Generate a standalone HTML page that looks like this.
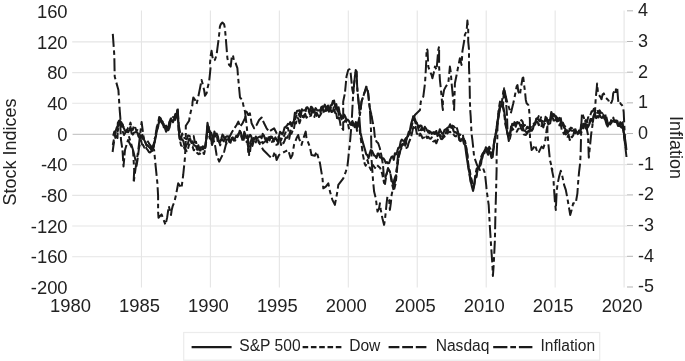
<!DOCTYPE html><html><head><meta charset="utf-8"><style>html,body{margin:0;padding:0;background:#fff;width:685px;height:361px;overflow:hidden}svg{display:block;will-change:transform;filter:blur(0.3px)}</style></head><body><svg width="685" height="361" viewBox="0 0 685 361" font-family="Liberation Sans, sans-serif">
<rect width="685" height="361" fill="#fff"/>
<line x1="72.2" x2="627" y1="41.90" y2="41.90" stroke="#e5e5e5" stroke-width="1.1"/>
<line x1="72.2" x2="627" y1="72.59" y2="72.59" stroke="#e5e5e5" stroke-width="1.1"/>
<line x1="72.2" x2="627" y1="103.27" y2="103.27" stroke="#e5e5e5" stroke-width="1.1"/>
<line x1="72.2" x2="627" y1="164.65" y2="164.65" stroke="#e5e5e5" stroke-width="1.1"/>
<line x1="72.2" x2="627" y1="195.33" y2="195.33" stroke="#e5e5e5" stroke-width="1.1"/>
<line x1="72.2" x2="627" y1="226.02" y2="226.02" stroke="#e5e5e5" stroke-width="1.1"/>
<line x1="72.2" x2="627" y1="256.70" y2="256.70" stroke="#e5e5e5" stroke-width="1.1"/>
<line x1="141.45" x2="141.45" y1="10.6" y2="287.5" stroke="#e5e5e5" stroke-width="1.1"/>
<line x1="210.40" x2="210.40" y1="10.6" y2="287.5" stroke="#e5e5e5" stroke-width="1.1"/>
<line x1="279.35" x2="279.35" y1="10.6" y2="287.5" stroke="#e5e5e5" stroke-width="1.1"/>
<line x1="348.30" x2="348.30" y1="10.6" y2="287.5" stroke="#e5e5e5" stroke-width="1.1"/>
<line x1="417.25" x2="417.25" y1="10.6" y2="287.5" stroke="#e5e5e5" stroke-width="1.1"/>
<line x1="486.20" x2="486.20" y1="10.6" y2="287.5" stroke="#e5e5e5" stroke-width="1.1"/>
<line x1="555.15" x2="555.15" y1="10.6" y2="287.5" stroke="#e5e5e5" stroke-width="1.1"/>
<line x1="624.10" x2="624.10" y1="10.6" y2="287.5" stroke="#e5e5e5" stroke-width="1.1"/>
<line x1="72.6" x2="627" y1="134.45" y2="134.45" stroke="#c9c9c9" stroke-width="1.3"/>
<line x1="627" x2="633" y1="286.99" y2="286.99" stroke="#b3b3b3" stroke-width="1"/>
<line x1="627" x2="633" y1="256.30" y2="256.30" stroke="#b3b3b3" stroke-width="1"/>
<line x1="627" x2="633" y1="225.62" y2="225.62" stroke="#b3b3b3" stroke-width="1"/>
<line x1="627" x2="633" y1="194.93" y2="194.93" stroke="#b3b3b3" stroke-width="1"/>
<line x1="627" x2="633" y1="164.25" y2="164.25" stroke="#b3b3b3" stroke-width="1"/>
<line x1="627" x2="633" y1="133.56" y2="133.56" stroke="#b3b3b3" stroke-width="1"/>
<line x1="627" x2="633" y1="102.87" y2="102.87" stroke="#b3b3b3" stroke-width="1"/>
<line x1="627" x2="633" y1="72.19" y2="72.19" stroke="#b3b3b3" stroke-width="1"/>
<line x1="627" x2="633" y1="41.50" y2="41.50" stroke="#b3b3b3" stroke-width="1"/>
<line x1="627" x2="633" y1="10.82" y2="10.82" stroke="#b3b3b3" stroke-width="1"/>
<text x="67.6" y="17.92" font-size="18.4" fill="#222" text-anchor="end">160</text>
<text x="67.6" y="48.60" font-size="18.4" fill="#222" text-anchor="end">120</text>
<text x="67.6" y="79.29" font-size="18.4" fill="#222" text-anchor="end">80</text>
<text x="67.6" y="109.97" font-size="18.4" fill="#222" text-anchor="end">40</text>
<text x="67.6" y="140.66" font-size="18.4" fill="#222" text-anchor="end">0</text>
<text x="67.6" y="171.35" font-size="18.4" fill="#222" text-anchor="end">-40</text>
<text x="67.6" y="202.03" font-size="18.4" fill="#222" text-anchor="end">-80</text>
<text x="67.6" y="232.72" font-size="18.4" fill="#222" text-anchor="end">-120</text>
<text x="67.6" y="263.40" font-size="18.4" fill="#222" text-anchor="end">-160</text>
<text x="67.6" y="294.09" font-size="18.4" fill="#222" text-anchor="end">-200</text>
<text x="638" y="292.49" font-size="18" fill="#222">-5</text>
<text x="638" y="261.80" font-size="18" fill="#222">-4</text>
<text x="638" y="231.12" font-size="18" fill="#222">-3</text>
<text x="638" y="200.43" font-size="18" fill="#222">-2</text>
<text x="638" y="169.75" font-size="18" fill="#222">-1</text>
<text x="638" y="139.06" font-size="18" fill="#222">0</text>
<text x="638" y="108.37" font-size="18" fill="#222">1</text>
<text x="638" y="77.69" font-size="18" fill="#222">2</text>
<text x="638" y="47.00" font-size="18" fill="#222">3</text>
<text x="638" y="16.32" font-size="18" fill="#222">4</text>
<text x="70.50" y="312.2" font-size="18.4" fill="#222" text-anchor="middle">1980</text>
<text x="139.45" y="312.2" font-size="18.4" fill="#222" text-anchor="middle">1985</text>
<text x="208.40" y="312.2" font-size="18.4" fill="#222" text-anchor="middle">1990</text>
<text x="277.35" y="312.2" font-size="18.4" fill="#222" text-anchor="middle">1995</text>
<text x="346.30" y="312.2" font-size="18.4" fill="#222" text-anchor="middle">2000</text>
<text x="415.25" y="312.2" font-size="18.4" fill="#222" text-anchor="middle">2005</text>
<text x="484.20" y="312.2" font-size="18.4" fill="#222" text-anchor="middle">2010</text>
<text x="553.15" y="312.2" font-size="18.4" fill="#222" text-anchor="middle">2015</text>
<text x="622.10" y="312.2" font-size="18.4" fill="#222" text-anchor="middle">2020</text>
<text transform="translate(16.2,152) rotate(-90)" font-size="18" fill="#222" text-anchor="middle">Stock Indices</text>
<text transform="translate(670,147.5) rotate(90)" font-size="18" fill="#222" text-anchor="middle">Inflation</text>
<polyline points="112.8,33.9 114.3,55.2 114.7,76.6 116.3,82.4 118.4,90.0 119.7,110.0 120.5,120.0 121.5,128.0 124.0,135.0 127.0,130.0 130.0,140.0 133.0,150.0 134.2,170.0 133.6,183.0 135.8,166.6 138.3,150.0 141.6,122.0 143.9,139.4 147.0,140.0 150.0,145.0 154.1,150.0 155.7,166.6 157.4,183.3 158.1,196.0 158.1,211.6 158.5,217.7 161.6,214.4 162.7,217.2 165.5,224.9 167.2,217.2 168.8,206.1 171.0,215.0 171.6,210.5 172.7,206.1 174.4,201.7 176.0,195.0 178.2,183.3 181.5,188.0 183.2,175.0 184.9,158.3 185.8,140.0 185.8,125.8 189.1,120.8 190.0,115.0 191.6,108.3 192.4,105.0 192.5,102.4 193.3,97.4 195.0,99.9 196.6,104.1 198.3,96.6 200.0,88.3 201.6,80.0 202.5,83.3 204.1,90.0 205.0,95.8 206.6,93.3 207.5,88.3 209.1,81.6 210.0,73.3 210.8,65.0 210.0,63.3 210.8,54.9 211.6,50.8 212.4,56.6 213.3,60.8 214.9,59.9 216.6,54.9 217.4,48.3 218.3,41.6 219.1,35.0 219.9,26.6 220.8,24.2 222.4,22.5 224.1,24.2 224.9,28.3 225.8,38.3 226.6,48.3 227.4,58.3 229.1,64.9 230.7,66.6 231.6,58.3 232.9,54.9 234.1,61.6 235.7,63.3 237.4,68.2 237.9,75.1 240.0,97.5 242.5,100.0 243.3,105.0 245.0,111.6 245.8,118.3 246.6,125.0 247.4,133.3 248.3,141.6 249.1,149.9 249.1,155.1 247.4,141.6 248.3,153.3 249.9,153.3 250.8,145.0 255.0,140.0 258.3,141.6 263.3,150.0 266.6,153.3 269.9,156.6 272.4,158.3 274.9,151.6 276.6,160.0 279.0,155.0 281.6,153.3 284.9,151.6 288.2,150.0 290.7,158.3 292.4,155.0 294.0,145.0 296.5,138.3 298.2,135.0 299.0,138.3 301.5,144.9 304.0,136.6 305.7,131.6 306.5,138.3 309.8,146.6 311.5,155.0 314.8,155.8 316.5,151.6 320.0,163.3 320.8,168.3 322.5,178.3 323.3,188.3 325.8,186.6 328.3,183.3 330.0,191.6 332.4,199.9 334.9,204.9 335.8,199.9 337.4,191.6 338.3,184.9 340.8,181.6 343.3,178.3 345.8,171.6 347.4,166.6 348.3,158.3 349.1,150.0 349.9,143.3 351.6,123.3 353.2,93.3 354.9,76.6 355.7,70.0 356.5,71.6 357.4,90.0 359.9,114.9 361.5,101.6 364.8,91.6 366.2,86.6 368.2,93.3 369.8,108.3 371.0,130.0 371.6,160.0 373.0,180.0 374.1,191.6 375.8,198.3 376.6,204.9 377.5,211.6 379.1,208.3 379.9,203.3 380.8,209.9 382.4,218.3 384.1,224.9 384.9,219.9 385.8,211.6 386.6,203.3 387.4,196.6 389.1,199.9 389.9,209.9 390.8,203.3 391.6,195.0 393.3,186.6 394.1,180.0 395.8,175.0 396.6,170.0 398.0,155.0 400.0,146.0 404.0,141.0 408.0,136.0 411.0,128.0 414.9,115.0 418.0,112.0 420.0,110.0 420.8,101.6 423.3,96.6 425.0,83.3 425.8,70.0 426.3,60.0 426.6,48.8 427.5,50.0 428.3,66.6 430.0,71.6 431.6,75.0 432.4,78.3 434.1,71.6 434.9,66.6 436.6,70.0 437.4,60.0 438.3,50.0 439.1,46.3 439.1,66.6 439.9,80.0 440.8,88.3 441.6,96.6 442.4,106.6 442.9,110.0 442.9,96.6 444.1,89.9 445.8,86.6 448.3,83.3 449.1,75.0 449.9,66.6 450.7,71.6 451.6,83.3 452.4,91.6 453.2,99.9 454.1,110.0 454.9,83.3 456.6,75.0 458.2,66.6 459.9,58.3 461.6,65.0 462.4,51.3 464.1,41.3 464.9,34.6 466.6,31.3 467.4,20.5 468.2,29.6 468.2,41.3 469.0,49.6 469.0,66.6 469.6,83.3 469.9,99.9 470.2,110.0 470.7,116.6 471.5,133.3 472.4,140.0 473.3,148.3 474.1,156.6 477.0,165.0 480.0,170.0 483.0,168.0 484.9,173.3 486.2,185.0 486.6,190.0 488.7,205.0 489.9,227.4 491.2,247.4 492.4,264.8 492.9,276.0 493.7,264.8 494.9,239.9 495.4,214.9 496.1,190.0 496.6,170.0 496.6,156.6 497.3,140.0 497.5,125.0 498.5,110.0 500.0,101.6 501.7,103.3 503.3,91.6 504.2,88.3 505.8,96.6 507.5,103.3 509.2,108.3 510.8,113.3 512.5,106.6 513.3,103.3 515.0,95.0 516.6,86.6 517.5,85.0 518.3,91.6 520.0,95.0 520.8,88.3 522.5,78.3 523.3,77.5 524.1,85.0 525.0,91.6 525.8,99.9 526.6,103.3 528.3,104.9 529.1,109.9 529.9,119.9 529.9,130.0 530.0,138.3 530.8,143.3 531.6,149.9 533.3,148.3 534.9,144.9 536.6,149.9 538.3,153.3 539.9,149.9 541.6,146.6 543.3,148.3 544.9,143.3 545.8,136.6 546.6,130.0 547.4,126.6 547.4,131.6 548.3,143.3 549.1,151.6 549.9,159.9 551.6,166.6 552.4,170.0 551.6,168.3 553.3,176.6 554.1,189.9 554.9,201.6 555.8,209.9 556.6,193.3 557.4,184.9 559.1,176.6 560.8,170.8 562.4,176.6 564.1,184.9 565.8,189.9 567.4,198.3 569.1,208.3 570.2,214.9 571.6,209.9 573.2,203.3 575.7,203.3 577.4,193.3 578.2,181.6 579.1,171.6 580.2,162.5 580.7,151.6 581.3,125.0 582.0,113.0 584.0,118.0 586.0,125.0 588.0,135.0 588.8,157.6 590.0,146.0 591.2,134.0 592.5,125.0 593.5,116.0 595.0,112.2 595.6,100.4 596.2,93.4 596.8,87.5 597.1,83.4 597.6,88.7 598.0,93.4 599.1,95.1 600.3,96.9 601.5,99.2 602.6,94.5 603.8,93.4 605.0,96.9 606.1,98.0 607.3,99.2 608.5,100.4 609.6,103.9 611.4,102.7 612.6,99.2 613.2,93.4 614.3,91.0 615.5,93.4 616.1,87.5 617.2,87.5 617.8,95.7 618.4,102.7 619.6,101.5 620.7,103.9 621.9,105.0 623.1,107.4 623.7,112.2 624.3,125.0 624.9,138.0" fill="none" stroke="#1a1a1a" stroke-width="2" stroke-dasharray="13 3.5 4.5 3.5" stroke-linejoin="round"/>
<polyline points="112.6,152.0 113.4,146.0 114.2,141.0 115.8,136.0 117.5,138.0 117.8,123.0 119.0,120.7 120.1,120.3 121.0,140.0 122.5,150.0 123.5,166.5 125.0,150.0 128.0,140.0 131.0,146.0 133.0,150.0 135.0,158.0 136.5,166.0 137.5,160.0 139.0,148.0 141.0,140.0 142.0,144.4 143.1,145.0 144.3,147.6 145.4,146.1 146.6,148.7 147.7,149.9 148.9,152.0 150.0,152.5 151.2,151.5 152.3,147.3 153.5,147.7 154.6,142.0 155.8,133.4 156.9,126.5 158.1,123.4 159.2,117.0 160.4,118.3 161.5,121.6 162.7,121.0 163.8,124.5 165.0,127.6 166.1,125.6 167.3,129.9 168.4,126.4 169.6,121.6 170.7,118.7 171.9,117.7 173.0,118.5 174.2,117.9 175.3,113.9 176.5,114.8 177.6,107.8 178.8,125.6 179.9,131.3 181.1,138.8 182.2,133.5 183.4,138.2 184.5,137.9 185.7,138.8 186.8,139.3 188.0,135.6 189.1,135.7 190.3,136.7 191.4,136.3 192.6,136.8 193.7,136.1 194.9,142.5 196.0,141.7 197.2,147.4 198.3,145.2 199.5,148.5 200.6,150.5 201.8,146.5 202.9,149.3 204.1,147.8 205.2,145.9 206.4,137.6 207.5,130.7 208.7,134.1 209.8,138.5 210.3,130.0 213.0,138.0 215.0,145.0 216.6,155.0 219.2,161.6 221.7,156.6 224.2,151.6 225.8,145.0 228.0,140.0 232.0,132.0 236.6,125.0 238.3,121.6 240.0,126.6 242.5,123.3 245.0,118.3 246.6,111.6 248.3,115.0 249.9,113.3 251.6,123.3 254.1,128.3 256.6,125.0 259.1,120.0 261.6,117.5 264.1,123.3 266.6,128.3 269.1,131.6 271.6,129.9 274.1,128.3 276.6,133.3 280.0,140.0 281.1,145.0 282.3,141.7 283.4,143.2 284.6,140.7 285.7,137.6 286.9,137.9 288.0,136.0 289.2,138.9 290.3,133.1 291.4,133.8 292.6,130.6 293.7,130.6 294.9,122.5 296.0,123.4 297.2,117.5 298.3,118.4 299.5,123.2 300.6,119.9 301.8,119.8 302.9,118.2 304.1,116.8 305.2,113.8 306.4,117.8 307.5,116.6 308.7,115.3 309.8,116.2 311.0,115.7 312.1,110.5 313.3,110.7 314.4,116.9 315.6,113.0 316.7,112.8 317.9,115.2 319.0,116.5 320.2,113.7 321.3,109.5 322.5,107.9 323.6,112.4 324.8,113.1 325.9,107.7 327.1,110.3 328.2,109.9 329.4,113.0 330.5,109.4 331.7,112.0 332.8,111.6 334.0,106.3 335.1,112.8 336.3,113.6 337.4,120.5 338.6,117.4 339.7,120.4 340.9,127.1 342.0,127.6 343.2,129.9 343.2,101.6 344.9,93.3 345.7,85.0 346.5,76.6 348.2,70.0 349.5,69.2 350.7,73.3 351.5,81.6 352.4,90.0 353.2,93.3 354.0,85.0 354.9,76.6 355.7,70.0 356.5,71.6 356.9,81.6 357.4,90.0 358.2,98.3 359.0,106.6 359.9,114.9 360.7,109.9 361.5,101.6 363.2,96.6 364.8,91.6 366.2,86.6 367.3,88.3 368.2,93.3 369.0,101.6 369.8,108.3 371.5,114.9 372.3,120.0 370.7,111.6 372.3,120.0 374.0,128.3 374.8,136.6 376.5,141.6 378.2,143.3 379.8,148.0 381.5,156.0 383.0,165.0 384.1,180.0 385.0,184.0 386.2,176.0 388.0,168.0 390.0,172.0 392.0,181.0 394.0,186.0 395.5,180.0 397.0,168.0 398.5,158.0 400.5,150.0 403.0,146.0 406.0,140.0 406.4,148.0 407.6,147.0 408.7,142.8 409.9,140.0 411.0,137.3 412.2,132.1 413.3,126.9 414.5,129.7 415.6,126.9 416.8,133.7 417.9,134.1 419.1,136.9 420.2,133.6 421.4,135.5 422.5,138.2 423.7,137.7 424.8,137.1 426.0,135.1 427.1,138.1 428.3,136.7 429.4,138.6 430.6,138.8 431.7,137.4 432.9,141.3 434.0,141.4 435.2,140.4 436.3,143.3 437.5,140.1 438.6,138.3 439.8,135.6 440.9,138.9 442.1,139.2 443.2,137.8 444.4,134.4 445.5,135.3 446.7,128.4 447.8,131.1 449.0,127.0 450.1,125.3 451.3,127.9 452.4,125.6 453.6,126.1 454.7,127.5 455.9,125.8 457.0,128.4 458.2,132.5 459.3,135.4 460.5,134.6 461.6,135.0 462.8,134.1 463.9,141.4 465.1,141.1 466.2,147.0 467.4,154.8 468.5,167.3 469.7,176.1 470.8,182.2 472.0,183.3 473.1,188.9 474.3,184.2 475.4,177.8 476.6,176.9 477.7,168.0 478.9,167.7 480.0,166.5 481.2,163.1 482.3,154.7 483.5,153.9 484.6,153.0 485.8,147.2 486.9,148.1 488.1,154.2 489.2,146.7 490.4,149.3 491.5,155.6 492.7,153.4 493.8,144.0 495.0,136.5 496.1,135.2 497.3,125.3 498.4,118.1 499.6,109.5 500.7,105.7 501.9,105.3 503.0,107.5 503.3,100.0 504.1,88.3 505.0,95.0 505.8,98.3 507.0,115.0 507.6,134.1 508.8,141.1 509.9,135.1 511.1,126.1 512.2,124.0 513.4,125.3 514.5,122.1 515.7,124.2 516.8,122.3 518.0,122.1 519.1,121.9 520.3,122.0 521.4,120.1 522.6,121.7 523.7,126.2 524.9,125.0 526.0,129.0 527.2,126.7 528.3,128.5 529.5,126.6 530.6,128.0 531.8,125.0 532.9,124.6 534.1,123.4 535.2,123.5 536.4,121.6 537.5,121.7 538.7,125.1 539.8,124.5 541.0,127.0 542.1,124.9 543.3,127.4 544.4,123.3 545.6,124.7 546.7,123.7 547.9,124.5 549.0,123.9 550.2,123.4 551.3,115.6 552.5,117.0 553.6,120.6 554.8,120.4 555.9,119.2 557.1,121.4 558.2,120.5 559.4,125.4 560.5,122.8 561.7,129.6 562.8,131.8 564.0,134.1 565.1,130.6 566.3,135.8 567.4,137.8 568.6,134.4 569.7,140.1 570.9,136.1 572.0,137.3 573.2,135.5 574.3,131.5 575.5,133.3 576.6,133.4 577.8,132.4 578.9,131.7 580.1,131.8 581.2,124.6 582.4,123.4 583.5,122.0 584.7,121.7 585.8,120.0 587.0,122.2 588.1,117.2 589.3,117.5 590.4,115.0 591.6,111.3 592.7,111.6 593.9,108.7 595.0,110.8 596.2,109.6 597.3,110.1 598.5,112.9 599.6,110.3 600.8,112.4 601.9,112.9 603.1,114.2 604.2,114.8 605.4,114.9 606.5,121.9 607.7,123.8 608.8,126.2 610.0,125.6 611.1,120.3 612.3,121.2 613.4,121.5 614.6,120.2 615.7,123.5 616.9,123.0 618.0,126.0 619.2,125.5 620.3,122.1 621.5,125.7 622.6,122.3 626.5,157.0" fill="none" stroke="#1a1a1a" stroke-width="2" stroke-dasharray="10.8 2.8" stroke-linejoin="round"/>
<polyline points="112.8,145.0 113.8,140.0 115.8,131.6 117.5,129.0 117.8,131.2 119.0,124.4 120.1,122.0 121.3,125.9 122.4,124.1 123.6,127.6 124.7,130.2 125.9,131.0 127.0,129.9 128.2,127.6 129.3,126.4 130.5,122.6 131.6,128.0 132.8,129.9 133.9,125.7 135.1,127.0 136.2,130.4 137.4,130.1 138.5,130.8 139.7,134.4 140.8,136.4 142.0,133.1 143.1,139.3 144.3,140.2 145.4,142.4 146.6,145.2 147.7,145.4 148.9,145.6 150.0,148.1 151.2,148.8 152.3,150.9 153.5,147.5 154.6,138.6 155.8,136.3 156.9,130.0 158.1,126.5 159.2,122.5 160.4,118.2 161.5,122.4 162.7,124.3 163.8,125.5 165.0,128.0 166.1,129.7 167.3,127.5 168.4,127.5 169.6,121.8 170.7,121.3 171.9,120.3 173.0,117.0 174.2,118.1 175.3,118.5 176.5,116.5 177.6,111.4 178.8,133.4 179.9,140.3 181.1,145.6 182.2,145.8 183.4,145.1 184.5,148.7 185.7,149.8 186.8,151.2 188.0,148.7 189.1,144.4 190.3,145.8 191.4,146.5 192.6,146.6 193.7,150.2 194.9,150.0 196.0,150.9 197.2,153.1 198.3,154.1 199.5,153.3 200.6,154.5 201.8,153.8 202.9,152.9 204.1,154.0 205.2,149.0 206.4,140.6 207.5,124.8 208.7,126.6 209.8,135.5 211.0,140.1 212.1,145.0 213.3,137.8 214.4,135.8 215.6,136.5 216.7,134.9 217.9,142.5 219.0,141.4 220.2,145.4 221.3,140.6 222.5,139.3 223.6,141.2 224.8,139.5 225.9,142.7 227.1,137.3 228.2,138.8 229.4,142.1 230.5,141.3 231.7,138.5 232.8,139.4 234.0,140.5 235.1,140.2 236.3,140.6 237.4,136.2 238.6,133.4 239.7,133.5 240.9,134.8 242.0,138.8 243.2,141.9 244.3,137.0 245.5,139.7 246.6,142.0 247.8,140.2 248.9,144.6 250.1,143.7 251.2,140.0 252.4,145.9 253.5,142.1 254.7,141.1 255.8,142.4 257.0,137.7 258.1,139.7 259.3,143.0 260.4,142.2 261.6,140.3 262.7,143.4 263.9,142.4 265.0,141.2 266.2,138.1 267.3,142.4 268.5,140.1 269.6,137.1 270.8,137.0 271.9,142.1 273.1,139.9 274.2,142.2 275.4,144.4 276.5,144.8 277.7,144.4 278.8,141.4 280.0,138.1 281.1,140.2 282.3,136.8 283.4,137.2 284.6,134.6 285.7,132.1 286.9,128.0 288.0,128.1 289.2,134.6 290.3,131.6 291.4,127.9 292.6,123.7 293.7,121.0 294.9,120.6 296.0,116.2 297.2,114.3 298.3,112.9 299.5,116.1 300.6,114.4 301.8,113.4 302.9,117.1 304.1,115.4 305.2,114.1 306.4,107.6 307.5,107.7 308.7,111.2 309.8,114.2 311.0,114.6 312.1,109.6 313.3,113.9 314.4,112.1 315.6,112.4 316.7,115.9 317.9,115.1 319.0,116.9 320.2,115.2 321.3,113.2 322.5,108.7 323.6,109.9 324.8,113.1 325.9,111.8 327.1,104.1 328.2,106.1 329.4,112.5 330.5,108.4 331.7,106.9 332.8,100.9 334.0,101.2 335.1,103.2 336.3,110.3 337.4,109.5 338.6,113.3 339.7,118.3 340.9,116.7 342.0,121.4 343.2,122.1 344.3,121.8 345.5,120.2 346.6,122.2 347.8,122.4 348.9,128.5 350.1,124.6 351.2,123.6 352.4,124.1 353.5,126.6 354.7,127.5 355.8,122.0 357.0,130.9 358.1,120.4 359.0,125.0 361.0,140.0 362.8,154.1 364.7,163.8 365.7,165.7 367.5,160.0 369.0,166.0 371.0,170.0 373.0,165.0 375.0,168.0 377.0,165.0 380.2,168.0 382.1,173.4 384.1,183.1 386.0,175.4 387.9,169.6 389.9,171.5 391.8,183.1 393.8,190.9 395.7,183.1 396.7,173.4 397.6,163.8 399.0,155.0 401.0,148.0 403.5,142.0 406.0,138.0 406.4,139.6 407.6,137.4 408.7,134.6 409.9,133.9 411.0,127.3 412.2,124.0 413.3,116.2 414.5,119.7 415.6,123.4 416.8,123.1 417.9,127.6 419.1,131.8 420.2,131.9 421.4,128.3 422.5,132.1 423.7,128.7 424.8,131.3 426.0,131.8 427.1,130.8 428.3,130.6 429.4,133.1 430.6,132.1 431.7,134.5 432.9,132.9 434.0,132.0 435.2,135.4 436.3,135.2 437.5,135.6 438.6,134.7 439.8,134.7 440.9,135.9 442.1,138.7 443.2,135.6 444.4,136.8 445.5,134.7 446.7,134.4 447.8,132.9 449.0,132.0 450.1,131.7 451.3,133.9 452.4,133.8 453.6,134.5 454.7,136.0 455.9,136.4 457.0,134.9 458.2,136.6 459.3,137.9 460.5,141.1 461.6,140.0 462.8,137.9 463.9,138.9 465.1,142.1 466.2,148.1 467.4,155.1 468.5,167.6 469.7,169.8 470.8,176.9 472.0,180.9 473.1,187.2 474.3,183.4 475.4,174.6 476.6,168.8 477.7,168.0 478.9,166.2 480.0,165.7 481.2,156.6 482.3,154.1 483.5,152.3 484.6,150.3 485.8,149.1 486.9,151.7 488.1,153.3 489.2,148.2 490.4,148.8 491.5,155.9 492.7,152.0 493.8,147.6 495.0,137.4 496.1,131.2 497.3,123.8 498.4,114.5 499.6,107.5 500.7,106.8 501.9,104.9 503.0,105.9 504.2,113.4 505.3,124.2 506.5,128.9 507.6,133.5 508.8,136.5 509.9,138.8 511.1,133.4 512.2,128.0 513.4,129.6 514.5,130.9 515.7,130.9 516.8,131.7 518.0,129.2 519.1,128.7 520.3,126.0 521.4,129.3 522.6,130.5 523.7,134.3 524.9,134.8 526.0,134.9 527.2,132.6 528.3,132.5 529.5,131.3 530.6,128.9 531.8,130.4 532.9,126.6 534.1,125.0 535.2,124.5 536.4,118.6 537.5,118.6 538.7,116.1 539.8,120.4 541.0,117.3 542.1,123.7 543.3,125.3 544.4,123.0 545.6,116.8 546.7,119.1 547.9,123.2 549.0,121.0 550.2,121.9 551.3,113.7 552.5,117.1 553.6,115.5 554.8,117.9 555.9,116.1 557.1,120.1 558.2,117.9 559.4,120.4 560.5,116.1 561.7,124.0 562.8,122.5 564.0,125.1 565.1,126.4 566.3,127.4 567.4,132.7 568.6,128.2 569.7,129.3 570.9,127.6 572.0,128.1 573.2,129.5 574.3,130.6 575.5,129.3 576.6,133.5 577.8,131.6 578.9,133.2 580.1,132.2 581.2,132.5 582.4,130.0 583.5,128.0 584.7,124.3 585.8,127.7 587.0,128.9 588.1,124.3 589.3,123.6 590.4,120.8 591.6,117.4 592.7,122.3 593.9,117.3 595.0,112.7 596.2,114.7 597.3,112.6 598.5,112.1 599.6,113.3 600.8,112.9 601.9,112.6 603.1,114.4 604.2,117.1 605.4,114.7 606.5,117.5 607.7,122.8 608.8,121.6 610.0,123.7 611.1,120.6 612.3,120.6 613.4,117.6 614.6,123.7 615.7,120.4 616.9,120.6 618.0,121.8 619.2,125.2 620.3,125.8 621.5,123.9 622.6,124.8 625.5,147.0" fill="none" stroke="#1a1a1a" stroke-width="2" stroke-dasharray="5.6 2.7" stroke-linejoin="round"/>
<polyline points="113.2,135.8 114.4,131.6 115.5,131.6 116.7,127.7 117.8,126.2 119.0,124.8 120.1,121.2 121.3,122.3 122.4,124.4 123.6,127.6 124.7,130.0 125.9,131.8 127.0,130.0 128.2,132.2 129.3,130.1 130.5,126.9 131.6,133.3 132.8,134.6 133.9,132.7 135.1,132.3 136.2,131.9 137.4,132.5 138.5,136.6 139.7,137.8 140.8,138.0 142.0,137.3 143.1,137.0 144.3,140.1 145.4,142.3 146.6,145.7 147.7,145.3 148.9,147.0 150.0,147.5 151.2,149.4 152.3,147.8 153.5,144.5 154.6,142.3 155.8,136.5 156.9,130.6 158.1,126.5 159.2,120.7 160.4,118.5 161.5,120.5 162.7,121.7 163.8,127.4 165.0,127.9 166.1,131.8 167.3,129.2 168.4,130.1 169.6,127.3 170.7,121.0 171.9,120.0 173.0,122.2 174.2,118.9 175.3,119.8 176.5,114.7 177.6,109.9 178.8,130.3 179.9,139.3 181.1,139.8 182.2,139.3 183.4,141.1 184.5,146.4 185.7,146.7 186.8,144.4 188.0,143.3 189.1,138.9 190.3,139.1 191.4,143.0 192.6,141.4 193.7,144.8 194.9,145.8 196.0,146.1 197.2,149.8 198.3,147.7 199.5,150.4 200.6,147.3 201.8,147.6 202.9,146.3 204.1,147.1 205.2,148.1 206.4,137.5 207.5,122.9 208.7,129.1 209.8,131.7 211.0,138.6 212.1,144.3 213.3,139.6 214.4,131.6 215.6,135.3 216.7,133.7 217.9,136.4 219.0,141.9 220.2,142.0 221.3,138.8 222.5,134.6 223.6,136.1 224.8,140.0 225.9,136.9 227.1,136.3 228.2,136.2 229.4,139.7 230.5,142.7 231.7,138.2 232.8,137.4 234.0,140.3 235.1,138.1 236.3,135.7 237.4,137.0 238.6,135.0 239.7,130.7 240.9,132.5 242.0,138.2 243.2,138.5 244.3,131.9 245.5,135.1 246.6,137.8 247.8,138.6 248.9,136.9 250.1,134.8 251.2,136.1 252.4,142.0 253.5,138.0 254.7,139.4 255.8,136.5 257.0,138.5 258.1,137.5 259.3,136.8 260.4,136.4 261.6,138.2 262.7,133.9 263.9,135.7 265.0,138.7 266.2,141.5 267.3,140.6 268.5,137.4 269.6,140.5 270.8,136.6 271.9,136.8 273.1,139.0 274.2,139.8 275.4,137.4 276.5,139.8 277.7,141.7 278.8,137.4 280.0,131.9 281.1,132.8 282.3,134.5 283.4,132.0 284.6,127.4 285.7,126.8 286.9,125.7 288.0,123.9 289.2,124.2 290.3,122.1 291.4,125.8 292.6,122.5 293.7,122.4 294.9,112.9 296.0,113.7 297.2,110.7 298.3,110.7 299.5,110.3 300.6,117.2 301.8,109.3 302.9,110.5 304.1,110.3 305.2,110.0 306.4,108.1 307.5,107.4 308.7,109.5 309.8,111.8 311.0,106.7 312.1,107.4 313.3,109.7 314.4,111.0 315.6,108.1 316.7,109.9 317.9,110.6 319.0,110.2 320.2,111.0 321.3,107.1 322.5,106.4 323.6,107.4 324.8,104.6 325.9,107.0 327.1,107.8 328.2,109.2 329.4,110.0 330.5,105.4 331.7,105.4 332.8,102.6 334.0,100.5 335.1,106.4 336.3,104.2 337.4,110.8 338.6,107.3 339.7,113.4 340.9,115.3 342.0,116.3 343.2,118.1 344.3,114.7 345.5,117.0 346.6,120.5 347.8,119.7 348.9,120.9 350.1,123.4 351.2,125.0 352.4,121.1 353.5,123.9 354.7,127.2 355.8,122.8 357.0,128.1 358.1,123.8 359.3,117.6 360.4,132.4 361.6,137.5 362.7,141.9 363.9,146.1 365.0,149.7 366.2,154.3 367.3,155.0 368.5,158.2 369.6,153.9 370.8,150.1 371.9,150.6 373.1,153.2 374.2,155.5 375.4,156.1 376.5,157.9 377.7,153.6 378.8,153.6 380.0,157.4 381.1,157.9 382.3,158.3 383.4,158.2 384.6,160.1 385.7,163.0 386.9,162.0 388.0,163.3 389.2,162.9 390.3,159.4 391.5,157.0 392.6,156.3 393.8,159.8 394.9,153.4 396.1,154.3 397.2,151.3 398.4,147.7 399.5,147.8 400.7,141.6 401.8,139.6 403.0,140.7 404.1,141.0 405.3,145.7 406.4,139.8 407.6,136.2 408.7,131.9 409.9,130.8 411.0,124.4 412.2,120.3 413.3,116.6 414.5,117.9 415.6,120.9 416.8,123.2 417.9,125.4 419.1,127.4 420.2,125.4 421.4,125.7 422.5,129.0 423.7,129.7 424.8,126.8 426.0,128.6 427.1,130.5 428.3,132.3 429.4,131.0 430.6,132.0 431.7,133.8 432.9,132.5 434.0,133.6 435.2,133.8 436.3,131.0 437.5,136.1 438.6,133.6 439.8,129.2 440.9,131.6 442.1,133.6 443.2,134.2 444.4,130.1 445.5,129.4 446.7,129.4 447.8,127.6 449.0,127.2 450.1,124.3 451.3,127.2 452.4,126.9 453.6,131.1 454.7,132.5 455.9,132.1 457.0,133.6 458.2,133.5 459.3,140.2 460.5,141.0 461.6,139.1 462.8,139.2 463.9,143.6 465.1,145.1 466.2,153.6 467.4,161.7 468.5,168.3 469.7,174.2 470.8,181.5 472.0,186.9 473.1,190.9 474.3,184.7 475.4,176.7 476.6,174.8 477.7,167.8 478.9,168.5 480.0,162.8 481.2,159.1 482.3,158.1 483.5,152.7 484.6,150.4 485.8,150.8 486.9,151.8 488.1,154.7 489.2,151.1 490.4,153.4 491.5,158.0 492.7,157.0 493.8,145.3 495.0,138.3 496.1,132.3 497.3,122.2 498.4,116.8 499.6,110.3 500.7,105.3 501.9,104.3 503.0,106.7 504.2,111.4 505.3,119.6 506.5,128.6 507.6,134.3 508.8,134.3 509.9,134.1 511.1,129.6 512.2,123.9 513.4,124.6 514.5,123.9 515.7,126.7 516.8,123.3 518.0,123.3 519.1,122.6 520.3,126.0 521.4,124.9 522.6,126.6 523.7,130.5 524.9,130.8 526.0,131.8 527.2,133.5 528.3,131.0 529.5,131.7 530.6,129.6 531.8,130.6 532.9,129.0 534.1,123.7 535.2,122.4 536.4,118.9 537.5,118.8 538.7,120.1 539.8,121.3 541.0,120.2 542.1,121.0 543.3,121.6 544.4,121.4 545.6,120.5 546.7,117.9 547.9,122.5 549.0,120.1 550.2,119.8 551.3,112.0 552.5,115.1 553.6,114.0 554.8,115.4 555.9,118.3 557.1,117.6 558.2,120.8 559.4,117.9 560.5,120.5 561.7,123.3 562.8,125.2 564.0,127.6 565.1,128.6 566.3,131.3 567.4,132.8 568.6,131.6 569.7,130.5 570.9,130.0 572.0,130.8 573.2,130.8 574.3,129.5 575.5,131.3 576.6,131.9 577.8,134.1 578.9,130.6 580.1,131.4 581.2,129.0 582.4,127.6 583.5,123.8 584.7,123.8 585.8,128.4 587.0,124.6 588.1,126.8 589.3,124.3 590.4,119.0 591.6,119.1 592.7,121.4 593.9,115.8 595.0,114.3 596.2,118.1 597.3,116.2 598.5,117.4 599.6,114.7 600.8,117.1 601.9,118.0 603.1,116.3 604.2,118.2 605.4,120.2 606.5,124.2 607.7,126.5 608.8,123.2 610.0,123.4 611.1,123.3 612.3,121.0 613.4,120.8 614.6,121.6 615.7,121.7 616.9,121.9 618.0,123.0 619.2,125.7 620.3,126.2 621.5,127.6 622.6,125.5 624.9,138.3 625.7,143.3 626.4,150.0" fill="none" stroke="#1a1a1a" stroke-width="2.1" stroke-linejoin="round"/>
<rect x="183.7" y="332.5" width="416" height="27.7" fill="#fff" stroke="#ececec" stroke-width="1.2"/>
<line x1="191.6" x2="231.6" y1="347.1" y2="347.1" stroke="#1a1a1a" stroke-width="2.1"/>
<line x1="302.1" x2="341.4" y1="347.1" y2="347.1" stroke="#1a1a1a" stroke-width="2.1" stroke-dasharray="5.6 2.7" stroke-dashoffset="-0.5"/>
<line x1="388.6" x2="426.4" y1="347.1" y2="347.1" stroke="#1a1a1a" stroke-width="2.1" stroke-dasharray="10.8 2.8"/>
<line x1="493.2" x2="532.4" y1="347.1" y2="347.1" stroke="#1a1a1a" stroke-width="2.1" stroke-dasharray="14.2 2.9 5.7 2.9 13.7 10"/>
<text x="239.3" y="350.9" font-size="15.6" fill="#222">S&amp;P 500</text>
<text x="349.2" y="350.9" font-size="15.6" fill="#222">Dow</text>
<text x="435.7" y="350.9" font-size="15.6" fill="#222">Nasdaq</text>
<text x="540.5" y="350.9" font-size="15.6" fill="#222">Inflation</text>
</svg></body></html>
